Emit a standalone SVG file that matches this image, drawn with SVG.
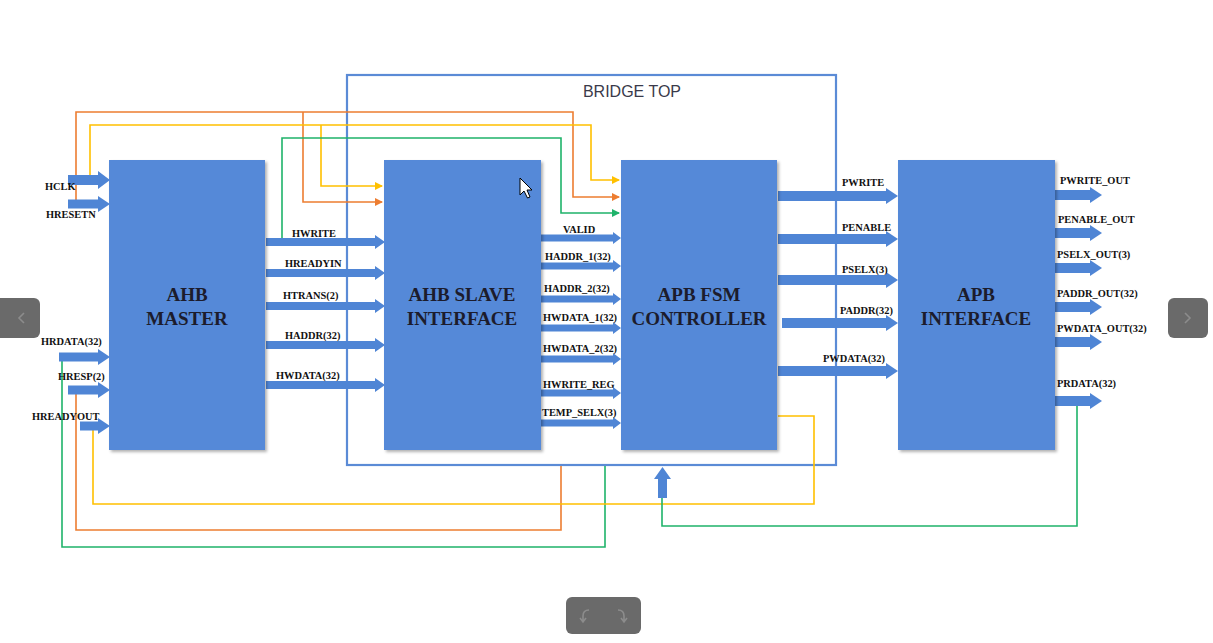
<svg xmlns="http://www.w3.org/2000/svg" width="1213" height="643" viewBox="0 0 1213 643">
<style>
.blk{fill:#5589d8;filter:url(#sh)}
.arw{fill:#4f85d5}
.bl{font-family:"Liberation Serif","Times New Roman",serif;font-weight:bold;font-size:19px;fill:#1c1c2c;text-anchor:middle}
.lb{font-family:"Liberation Serif","Times New Roman",serif;font-weight:bold;font-size:10.4px;fill:#111}
.w{fill:none;stroke-width:1.6}
.o{stroke:#ED7D31}
.y{stroke:#FFC000}
.g{stroke:#1fb36a}
.nav{fill:#6a6a6a}
.ic{fill:none;stroke:#8c8c8c;stroke-width:1.6}
</style>
<defs>
<filter id="sh" x="-5%" y="-5%" width="115%" height="115%">
<feDropShadow dx="2" dy="2" stdDeviation="1.5" flood-color="#000" flood-opacity="0.3"/>
</filter>
<marker id="mo" markerWidth="8" markerHeight="8" refX="7" refY="4" orient="auto" markerUnits="userSpaceOnUse"><path d="M0,0 L8,4 L0,8 Z" fill="#ED7D31"/></marker>
<marker id="my" markerWidth="8" markerHeight="8" refX="7" refY="4" orient="auto" markerUnits="userSpaceOnUse"><path d="M0,0 L8,4 L0,8 Z" fill="#FFC000"/></marker>
<marker id="mg" markerWidth="8" markerHeight="8" refX="7" refY="4" orient="auto" markerUnits="userSpaceOnUse"><path d="M0,0 L8,4 L0,8 Z" fill="#1fb36a"/></marker>
</defs>
<rect width="1213" height="643" fill="#fff"/>

<g id="bridge-top">
<rect x="347" y="75" width="489" height="390" fill="none" stroke="#5b8bd6" stroke-width="2.2"/>
<text x="632" y="97" font-family="Liberation Sans, Arial, sans-serif" font-size="16" fill="#3a3a4a" text-anchor="middle">BRIDGE TOP</text>
</g>

<g id="connectors">
<path class="w o" d="M76,200 V112 H573 V197 H619" marker-end="url(#mo)"/>
<path class="w o" d="M303,112 V202 H382" marker-end="url(#mo)"/>
<path class="w y" d="M90,177 V125 H591 V180 H619" marker-end="url(#my)"/>
<path class="w y" d="M321,125 V186 H382" marker-end="url(#my)"/>
<path class="w g" d="M282,238 V138 H561 V213 H619" marker-end="url(#mg)"/>
<path class="w g" d="M62,361 V547 H605 V466"/>
<path class="w o" d="M76,394 V530 H561 V466"/>
<path class="w y" d="M93,430 V504 H814 V416 H778"/>
<path class="w g" d="M1077,405 V526 H662 V498"/>

<path class="arw" d="M68,175 H98 V171 L110,180 L98,189 V185 H68 Z"/>
<path class="arw" d="M68,199.5 H98 V196 L110,204 L98,212 V208.5 H68 Z"/>
<path class="arw" d="M59,352.5 H98 V349 L110,357 L98,365 V361.5 H59 Z"/>
<path class="arw" d="M68,385.5 H98 V382 L110,390 L98,398 V394.5 H68 Z"/>
<path class="arw" d="M80,421.5 H98 V418 L110,426 L98,434 V430.5 H80 Z"/>

<path class="arw" d="M266,238 H375 V235 L385,242 L375,249 V246 H266 Z"/>
<path class="arw" d="M266,269 H375 V266 L385,273 L375,280 V277 H266 Z"/>
<path class="arw" d="M266,302 H375 V299 L385,306 L375,313 V310 H266 Z"/>
<path class="arw" d="M266,341 H375 V338 L385,345 L375,352 V349 H266 Z"/>
<path class="arw" d="M266,381 H375 V378 L385,385 L375,392 V389 H266 Z"/>

<path class="arw" d="M541,234.5 H613 V232 L621,238 L613,244 V241.5 H541 Z"/>
<path class="arw" d="M541,262.5 H613 V260 L621,266 L613,272 V269.5 H541 Z"/>
<path class="arw" d="M541,295.5 H613 V293 L621,299 L613,305 V302.5 H541 Z"/>
<path class="arw" d="M541,324.5 H613 V322 L621,328 L613,334 V331.5 H541 Z"/>
<path class="arw" d="M541,355.5 H613 V353 L621,359 L613,365 V362.5 H541 Z"/>
<path class="arw" d="M541,389.5 H613 V387 L621,393 L613,399 V396.5 H541 Z"/>
<path class="arw" d="M541,419.5 H613 V417 L621,423 L613,429 V426.5 H541 Z"/>

<path class="arw" d="M778,191 H886 V188 L898,196 L886,204 V201 H778 Z"/>
<path class="arw" d="M778,234 H886 V231 L898,239 L886,247 V244 H778 Z"/>
<path class="arw" d="M778,275 H886 V272 L898,280 L886,288 V285 H778 Z"/>
<path class="arw" d="M782,318 H886 V315 L898,323 L886,331 V328 H782 Z"/>
<path class="arw" d="M778,366 H886 V363 L898,371 L886,379 V376 H778 Z"/>

<path class="arw" d="M1055,190 H1090 V187 L1102,195 L1090,203 V200 H1055 Z"/>
<path class="arw" d="M1055,228 H1090 V225 L1102,233 L1090,241 V238 H1055 Z"/>
<path class="arw" d="M1055,263 H1090 V260 L1102,268 L1090,276 V273 H1055 Z"/>
<path class="arw" d="M1055,302 H1090 V299 L1102,307 L1090,315 V312 H1055 Z"/>
<path class="arw" d="M1055,337 H1090 V334 L1102,342 L1090,350 V347 H1055 Z"/>
<path class="arw" d="M1055,396 H1090 V393 L1102,401 L1090,409 V406 H1055 Z"/>

<path class="arw" d="M658,498 V479 H654 L662.5,467 L671,479 H667 V498 Z"/>
</g>

<g id="labels">
<text class="lb" x="45" y="190">HCLK</text>
<text class="lb" x="46" y="218">HRESETN</text>
<text class="lb" x="41" y="345">HRDATA(32)</text>
<text class="lb" x="58" y="380">HRESP(2)</text>
<text class="lb" x="32" y="420">HREADYOUT</text>

<text class="lb" x="292" y="237">HWRITE</text>
<text class="lb" x="285" y="267">HREADYIN</text>
<text class="lb" x="283" y="299">HTRANS(2)</text>
<text class="lb" x="285" y="339">HADDR(32)</text>
<text class="lb" x="276" y="379">HWDATA(32)</text>

<text class="lb" x="563" y="233">VALID</text>
<text class="lb" x="545" y="260">HADDR_1(32)</text>
<text class="lb" x="544" y="292">HADDR_2(32)</text>
<text class="lb" x="543" y="321">HWDATA_1(32)</text>
<text class="lb" x="543" y="352">HWDATA_2(32)</text>
<text class="lb" x="543" y="388">HWRITE_REG</text>
<text class="lb" x="542" y="416">TEMP_SELX(3)</text>

<text class="lb" x="842" y="186">PWRITE</text>
<text class="lb" x="842" y="231">PENABLE</text>
<text class="lb" x="842" y="273">PSELX(3)</text>
<text class="lb" x="840" y="314">PADDR(32)</text>
<text class="lb" x="823" y="362">PWDATA(32)</text>

<text class="lb" x="1060" y="184">PWRITE_OUT</text>
<text class="lb" x="1058" y="223">PENABLE_OUT</text>
<text class="lb" x="1057" y="258">PSELX_OUT(3)</text>
<text class="lb" x="1057" y="297">PADDR_OUT(32)</text>
<text class="lb" x="1057" y="332">PWDATA_OUT(32)</text>
<text class="lb" x="1057" y="387">PRDATA(32)</text>
</g>

<g id="ahb-master">
<rect class="blk" x="109" y="160" width="156" height="290"/>
<text class="bl" x="187" y="301">AHB</text>
<text class="bl" x="187" y="325">MASTER</text>
</g>
<g id="ahb-slave-interface">
<rect class="blk" x="384" y="160" width="157" height="290"/>
<text class="bl" x="462" y="301">AHB SLAVE</text>
<text class="bl" x="462" y="325">INTERFACE</text>
</g>
<g id="apb-fsm-controller">
<rect class="blk" x="621" y="160" width="156" height="290"/>
<text class="bl" x="699" y="301">APB FSM</text>
<text class="bl" x="699" y="325">CONTROLLER</text>
</g>
<g id="apb-interface">
<rect class="blk" x="898" y="160" width="157" height="290"/>
<text class="bl" x="976" y="301">APB</text>
<text class="bl" x="976" y="325">INTERFACE</text>
</g>

<g id="cursor">
<path d="M520,178 V195 L524,191 L527.5,198 L530,197 L527,190 L532,190 Z" fill="#fff" stroke="#000" stroke-width="1"/>
</g>

<g id="nav">
<rect class="nav" x="-6" y="298" width="46" height="40" rx="6"/>
<path class="ic" d="M24,313 L19,318 L24,323"/>
<rect class="nav" x="1168" y="298" width="40" height="40" rx="6"/>
<path class="ic" d="M1185,313 L1190,318 L1185,323"/>
<rect class="nav" x="566" y="597" width="75" height="37" rx="6"/>
<path class="ic" d="M589,610 Q583,610 583,616 V621 M580,618 L583,622 L586,618"/>
<path class="ic" d="M618,610 Q624,610 624,616 V621 M621,618 L624,622 L627,618"/>
</g>
</svg>
